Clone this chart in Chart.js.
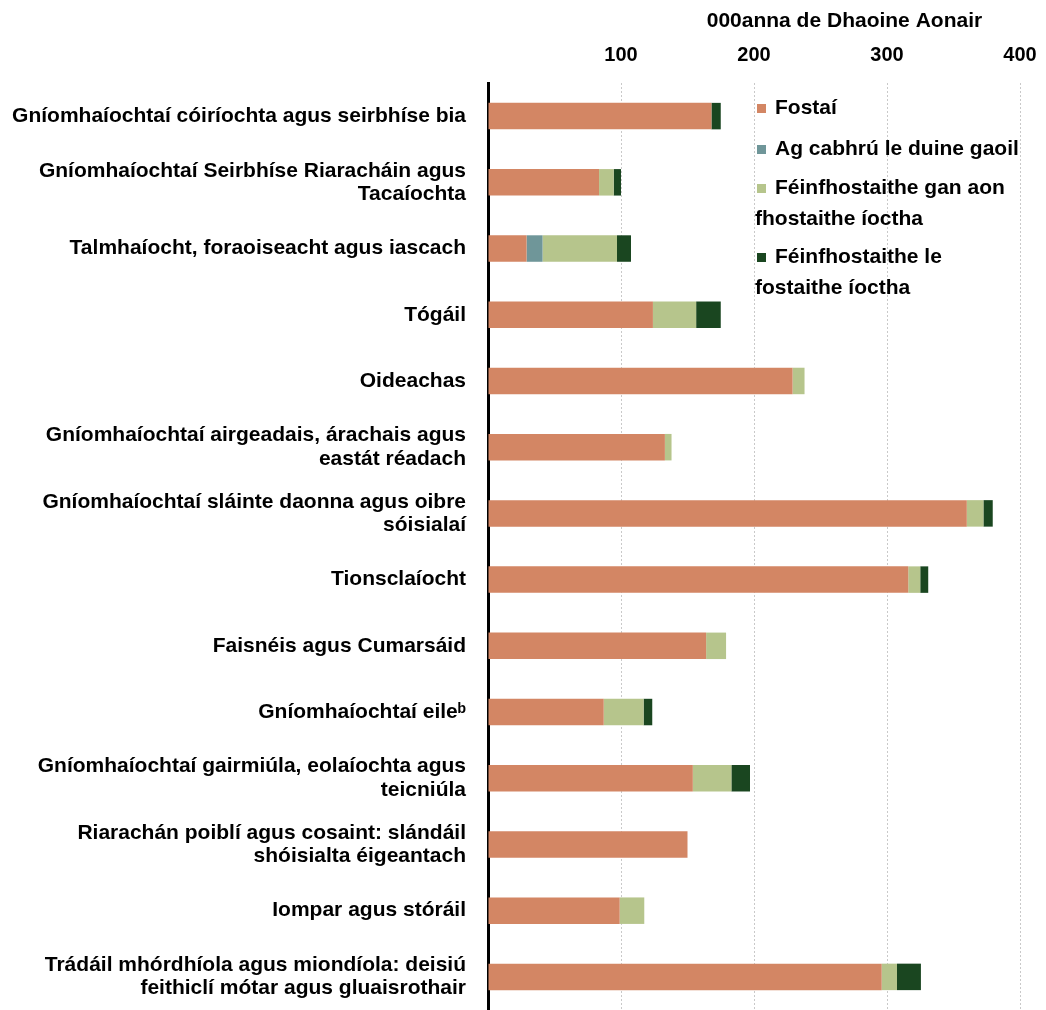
<!DOCTYPE html>
<html>
<head>
<meta charset="utf-8">
<script src="https://cdn.jsdelivr.net/npm/chart.js@4.4.0/dist/chart.umd.min.js"></script>
<style>
  html, body { margin: 0; padding: 0; background: #fff; }
  #wrap { width: 1046px; height: 1010px; position: relative; }
</style>
</head>
<body>
<div id="wrap"><canvas id="chart"></canvas></div>
<script>
// earnáil (catagóirí)
const categories = [
  'Gníomhaíochtaí cóiríochta agus seirbhíse bia',
  ['Gníomhaíochtaí Seirbhíse Riaracháin agus', 'Tacaíochta'],
  'Talmhaíocht, foraoiseacht agus iascach',
  'Tógáil',
  'Oideachas',
  ['Gníomhaíochtaí airgeadais, árachais agus', 'eastát réadach'],
  ['Gníomhaíochtaí sláinte daonna agus oibre', 'sóisialaí'],
  'Tionsclaíocht',
  'Faisnéis agus Cumarsáid',
  'Gníomhaíochtaí eileᵇ',
  ['Gníomhaíochtaí gairmiúla, eolaíochta agus', 'teicniúla'],
  ['Riarachán poiblí agus cosaint: slándáil', 'shóisialta éigeantach'],
  'Iompar agus stóráil',
  ['Trádáil mhórdhíola agus miondíola: deisiú', 'feithiclí mótar agus gluaisrothair']
];

// 000anna
const fostai      = [168, 83.5, 29, 124, 229, 133, 360, 316, 164, 87, 154, 150, 99, 296];
const cabhru      = [0, 0, 12, 0, 0, 0, 0, 0, 0, 0, 0, 0, 0, 0];
const gan_fostai  = [0, 11, 56, 32.5, 9, 5, 12.5, 9, 15, 30, 29, 0, 18.5, 11.5];
const le_fostai   = [7, 5.5, 10.5, 18.5, 0, 0, 7, 6, 0, 6.5, 14, 0, 0, 18];

const seriesNames = ['Fostaí', 'Ag cabhrú le duine gaoil',
  ['Féinfhostaithe gan aon', 'fhostaithe íoctha'],
  ['Féinfhostaithe le', 'fostaithe íoctha']];
const colours = ['#d38664', '#6f9699', '#b6c58c', '#1a4620'];
const xTicks = [100, 200, 300, 400];
const axisTitle = '000anna de Dhaoine Aonair';

const FONT = 'Arial, "Liberation Sans", sans-serif';

// legend drawn by hand so the long names can wrap onto two lines
const legendPlugin = {
  id: 'sideLegend',
  afterDraw(chart) {
    const ctx = chart.ctx;
    const x0 = chart.scales.x.getPixelForValue(200);
    ctx.save();
    ctx.font = 'bold 21px ' + FONT;
    ctx.textBaseline = 'middle';
    const rows = [[108], [149], [188, 219], [257, 288]];
    seriesNames.forEach((name, i) => {
      const lines = Array.isArray(name) ? name : [name];
      const ys = rows[i];
      ctx.fillStyle = colours[i];
      ctx.fillRect(x0 + 3, ys[0] - 4, 9, 9);
      ctx.fillStyle = '#000';
      ctx.textAlign = 'left';
      ctx.fillText(lines[0], x0 + 21, ys[0]);
      if (lines[1]) ctx.fillText(lines[1], x0 + 1, ys[1]);
    });
    // axis title
    ctx.textAlign = 'center';
    ctx.font = 'bold 21px ' + FONT;
    ctx.fillText(axisTitle, chart.scales.x.getPixelForValue(268), 21);
    ctx.restore();
  }
};

new Chart(document.getElementById('chart'), {
  type: 'bar',
  data: {
    labels: categories,
    datasets: [fostai, cabhru, gan_fostai, le_fostai].map((d, i) => ({
      label: Array.isArray(seriesNames[i]) ? seriesNames[i].join(' ') : seriesNames[i],
      data: d,
      backgroundColor: colours[i],
      borderWidth: 0,
      barPercentage: 0.4,
      categoryPercentage: 1.0
    }))
  },
  options: {
    indexAxis: 'y',
    responsive: true,
    maintainAspectRatio: false,
    animation: false,
    layout: { padding: { top: 0, right: 26, bottom: 0, left: 0 } },
    plugins: { legend: { display: false }, tooltip: { enabled: false } },
    scales: {
      x: {
        position: 'top',
        stacked: true,
        min: 0,
        max: 400,
        afterBuildTicks(scale) {
          scale.ticks = [0].concat(xTicks).map(v => ({ value: v }));
        },
        afterFit(scale) {
          scale.height = 83;
          scale.paddingLeft = 0;
          scale.paddingRight = 0;
        },
        ticks: {
          color: '#000',
          padding: 16,
          font: { family: FONT, size: 20, weight: 'bold' },
          callback: v => (v === 0 ? '' : v)
        },
        grid: {
          drawTicks: false,
          color: ctx => (ctx.tick && ctx.tick.value === 0 ? 'rgba(0,0,0,0)' : '#c9c9c9'),
          lineWidth: 1
        },
        border: { display: false, dash: [2, 2] }
      },
      y: {
        stacked: true,
        afterFit(scale) {
          scale.width = 488;
          scale.paddingTop = 0;
          scale.paddingBottom = 0;
        },
        ticks: {
          color: '#000',
          padding: 22,
          font: { family: FONT, size: 21, weight: 'bold', lineHeight: 1.1 }
        },
        grid: { display: false, drawTicks: false },
        border: { display: true, color: '#000', width: 3 }
      }
    }
  },
  plugins: [legendPlugin]
});
</script>
</body>
</html>
